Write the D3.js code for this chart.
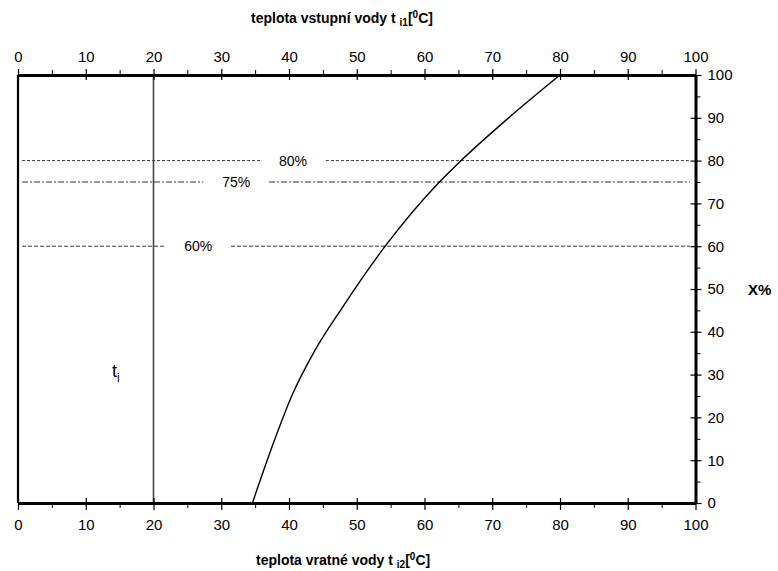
<!DOCTYPE html>
<html><head><meta charset="utf-8">
<script src="https://cdn.jsdelivr.net/npm/d3@7"></script>
<style>body{margin:0;background:#fff}svg{display:block}text{font-family:"Liberation Sans",Arial,sans-serif}</style>
</head><body><svg id="c" width="778" height="571"></svg>
<script>
// data
const xTicks = [0,10,20,30,40,50,60,70,80,90,100];
const yTicks = [0,10,20,30,40,50,60,70,80,90,100];
const curveT = [34.6,37.7,40.4,43.6,47.8,54.2,62.2,65.4,72.5,80.0];
const curveX = [0,14,25,35,45.5,60,75,80,90.1,100];
const levels = [80,75,60];
const levelLabels = ["80%","75%","60%"];
const levelLabelAt = [40.6,32.2,26.6];
const levelDash = ["3,2","6,2,2,2","4,2"];
const tiLine = 20;

const svg = d3.select("#c");
const x = d3.scaleLinear().domain([0,100]).range([18,695.5]);
const y = d3.scaleLinear().domain([0,100]).range([503,75]);

// horizontal level lines
levels.forEach((lv,i)=>{
  const gap = 4.85;
  const segs = [[0.6, levelLabelAt[i]-gap],[levelLabelAt[i]+gap, 99.2]];
  segs.forEach(s=>{
    svg.append("line").attr("x1",x(s[0])).attr("x2",x(s[1]))
      .attr("y1",y(lv)).attr("y2",y(lv))
      .attr("stroke","#000").attr("stroke-width",0.8)
      .attr("stroke-dasharray",levelDash[i]);
  });
  svg.append("text").attr("x",x(levelLabelAt[i])).attr("y",y(lv)+5)
    .attr("text-anchor","middle").attr("font-size",14).text(levelLabels[i]);
});

// vertical t_i line
svg.append("line").attr("x1",x(tiLine)).attr("x2",x(tiLine))
  .attr("y1",y(100)).attr("y2",y(0)).attr("stroke","#444").attr("stroke-width",1.6);

// curve
const pts = curveT.map((t,i)=>[t,curveX[i]]);
svg.append("path").datum(pts)
  .attr("d",d3.line().x(d=>x(d[0])).y(d=>y(d[1])).curve(d3.curveMonotoneX))
  .attr("fill","none").attr("stroke","#000").attr("stroke-width",1.4);

// left border
svg.append("line").attr("x1",x(0)).attr("x2",x(0)).attr("y1",y(100)).attr("y2",y(0))
  .attr("stroke","#000").attr("stroke-width",2.2);

// axes
function styleAxis(g){
  g.select(".domain").attr("stroke","#000").attr("stroke-width",3);
  g.selectAll("text").attr("font-size",15).attr("fill","#000");
  g.selectAll("line").attr("stroke","#000").attr("stroke-width",1.2);
}
const minor = d3.range(5,100,10);
// top
const gTopMinor = svg.append("g").attr("transform",`translate(0,${y(100)})`)
  .call(d3.axisTop(x).tickValues(minor).tickSize(5).tickFormat("").tickSizeOuter(0));
gTopMinor.select(".domain").remove();
gTopMinor.selectAll("line").attr("stroke","#000").attr("stroke-width",1);
const gTop = svg.append("g").attr("transform",`translate(0,${y(100)})`)
  .call(d3.axisTop(x).tickValues(xTicks).tickSize(6).tickSizeOuter(0).tickPadding(7));
styleAxis(gTop);
gTop.selectAll(".tick line").attr("y2",-6).attr("y1",5);
// bottom
const gBotMinor = svg.append("g").attr("transform",`translate(0,${y(0)})`)
  .call(d3.axisBottom(x).tickValues(minor).tickSize(5).tickFormat("").tickSizeOuter(0));
gBotMinor.select(".domain").remove();
gBotMinor.selectAll("line").attr("stroke","#000").attr("stroke-width",1);
const gBot = svg.append("g").attr("transform",`translate(0,${y(0)})`)
  .call(d3.axisBottom(x).tickValues(xTicks).tickSize(7).tickSizeOuter(0).tickPadding(9));
styleAxis(gBot);
gBot.selectAll(".tick line").attr("y1",-5).attr("y2",7);
// right
const gRMinor = svg.append("g").attr("transform",`translate(${x(100)},0)`)
  .call(d3.axisRight(y).tickValues(minor).tickSize(5).tickFormat("").tickSizeOuter(0));
gRMinor.select(".domain").remove();
gRMinor.selectAll("line").attr("stroke","#000").attr("stroke-width",1);
const gR = svg.append("g").attr("transform",`translate(${x(100)},0)`)
  .call(d3.axisRight(y).tickValues(yTicks).tickSize(6).tickSizeOuter(0).tickPadding(6));
styleAxis(gR);
gR.selectAll(".tick line").attr("x1",-5).attr("x2",6);

// titles
const tTop = svg.append("text").attr("x",251).attr("y",23)
  .attr("font-size",14).attr("font-weight","bold");
tTop.append("tspan").text("teplota vstupní vody t ");
tTop.append("tspan").attr("font-size",10).attr("dy",3).text("i1");
tTop.append("tspan").attr("dy",-3).text("[");
tTop.append("tspan").attr("font-size",10).attr("dy",-5).text("0");
tTop.append("tspan").attr("dy",5).text("C]");

const tBot = svg.append("text").attr("x",256).attr("y",565)
  .attr("font-size",14).attr("font-weight","bold");
tBot.append("tspan").text("teplota vratné vody t ");
tBot.append("tspan").attr("font-size",10).attr("dy",3).text("i2");
tBot.append("tspan").attr("dy",-3).text("[");
tBot.append("tspan").attr("font-size",10).attr("dy",-5).text("0");
tBot.append("tspan").attr("dy",5).text("C]");

svg.append("text").attr("x",748).attr("y",295).attr("font-size",15).attr("font-weight","bold").text("X%");

const ti = svg.append("text").attr("x",112).attr("y",377).attr("font-size",18);
ti.append("tspan").text("t");
ti.append("tspan").attr("font-size",12).attr("dy",5).text("i");
</script></body></html>
